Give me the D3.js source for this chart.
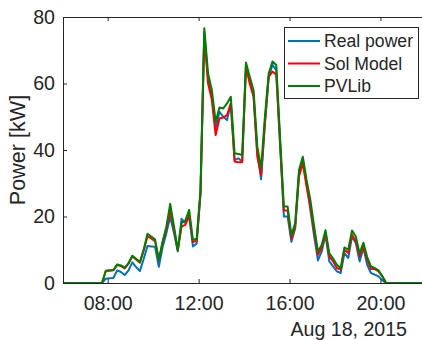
<!DOCTYPE html>
<html>
<head>
<meta charset="utf-8">
<script src="https://cdn.jsdelivr.net/npm/d3@7"></script>
<style>
  body { margin: 0; background: #fff; }
  text { font-family: 'Liberation Sans', Arial, sans-serif; fill: #262626; }
</style>
</head>
<body>
<svg id="chart" width="422" height="340"></svg>
<script>
// samples every 10 minutes, 06:05 .. 21:55 on Aug 18, 2015
const startTime = new Date(2015, 7, 18, 6, 5)
const stepMinutes = 10
const xLimits = [new Date(2015, 7, 18, 6, 2), new Date(2015, 7, 18, 21, 55)]

const realPower = [
	0, 0, 0, 0, 0, 0, 0, 0, 0, 0, 0,
	1.3, 1.4, 1.5, 3.8, 3.3, 2.4, 3.8, 6.2, 4.8, 3.6,
	7.2, 11.1, 11.0, 10.9, 4.9, 10.8, 15.0, 19.9, 15.0, 9.5,
	19.3, 18.0, 20.0, 11.0, 11.9, 27.0, 75.5, 61.0, 56.0, 46.5,
	51.5, 50.0, 49.0, 54.0, 37.0, 37.5, 36.5, 65.0, 61.0, 57.0,
	39.0, 31.2, 48.0, 62.0, 65.6, 64.0, 42.0, 20.0, 20.0, 12.4,
	16.5, 33.0, 37.0, 30.0, 22.0, 14.0, 6.8, 9.5, 14.5, 6.5,
	5.0, 3.5, 3.0, 9.0, 7.5, 14.0, 12.0, 6.5, 10.5, 5.5,
	3.0, 2.5, 2.0, 0.8, 0,
	0, 0, 0, 0, 0, 0, 0, 0, 0, 0
]

const solModel = [
	0, 0, 0, 0, 0, 0, 0, 0, 0, 0, 0,
	3.6, 3.7, 3.8, 5.4, 5.1, 4.4, 5.8, 8.0, 7.1, 6.1,
	9.8, 14.0, 13.4, 12.6, 6.8, 12.2, 16.2, 22.0, 16.0, 9.8,
	17.0, 17.5, 20.5, 12.3, 12.7, 27.0, 74.5, 60.0, 55.0, 44.5,
	49.5, 49.8, 50.5, 54.0, 36.5, 36.3, 36.3, 65.0, 60.0, 56.0,
	38.0, 32.5, 48.0, 62.0, 63.6, 62.6, 42.0, 21.8, 21.8, 13.4,
	17.0, 32.0, 36.0, 29.0, 23.0, 15.5, 8.5, 10.5, 15.0, 8.0,
	6.5, 4.5, 4.0, 10.0, 9.0, 14.5, 12.5, 8.0, 11.0, 7.0,
	4.2, 4.2, 3.5, 2.0, 0,
	0, 0, 0, 0, 0, 0, 0, 0, 0, 0
]

const pvLib = [
	0, 0, 0, 0, 0, 0, 0, 0, 0, 0, 0,
	3.7, 3.8, 3.9, 5.6, 5.3, 4.6, 6.0, 8.2, 7.3, 6.3,
	10.0, 14.8, 14.0, 13.1, 7.0, 12.5, 17.0, 23.8, 17.0, 10.0,
	18.0, 18.8, 22.0, 12.9, 13.4, 28.0, 76.6, 63.0, 58.0, 48.5,
	52.8, 52.5, 54.0, 56.0, 39.0, 38.8, 38.5, 66.3, 62.0, 58.0,
	41.0, 34.5, 50.0, 63.0, 66.6, 65.6, 44.0, 23.0, 23.0, 14.4,
	18.0, 34.0, 38.0, 31.0, 25.0, 17.0, 9.5, 11.4, 15.9, 8.9,
	7.4, 5.5, 4.5, 10.7, 10.0, 15.8, 14.0, 8.9, 12.1, 7.8,
	5.0, 4.5, 3.8, 2.0, 0,
	0, 0, 0, 0, 0, 0, 0, 0, 0, 0
]

const seriesNames = ['Real power', 'Sol Model', 'PVLib']
const seriesColors = ['#0072BD', '#FF0000', '#008000']
const yTicks = [0, 20, 40, 60, 80]
const dateLabel = 'Aug 18, 2015'
const yLabel = 'Power [kW]'

let times = realPower.map((d, i) => d3.timeMinute.offset(startTime, i * stepMinutes))
let series = [realPower, solModel, pvLib]

let margin = {left: 63, top: 17, right: 424, bottom: 283}
let axisFont = '19.6px'
let legendFont = '17.6px'   // matlab legend is 0.9x the axes font

let svg = d3.select('#chart')

let x = d3.scaleTime()
	.domain(xLimits)
	.range([margin.left, margin.right])

let y = d3.scaleLinear()
	.domain([0, 80])
	.range([margin.bottom, margin.top])

svg.append('clipPath').attr('id', 'plot-clip')
	.append('rect')
	.attr('x', margin.left).attr('y', margin.top - 5)
	.attr('width', margin.right - margin.left)
	.attr('height', margin.bottom - margin.top + 5)

let line = d3.line()
	.x((d, i) => x(times[i]))
	.y(d => y(d))

series.forEach((values, k) => {
	svg.append('path')
		.datum(values)
		.attr('clip-path', 'url(#plot-clip)')
		.attr('d', line)
		.style('fill', 'none')
		.style('stroke', seriesColors[k])
		.style('stroke-width', 2)
		.style('stroke-linejoin', 'round')
})

// axes, MATLAB style: box on, ticks pointing in
let xAxis = d3.axisBottom(x)
	.ticks(d3.timeHour.every(4))
	.tickFormat(d3.timeFormat('%H:%M'))
	.tickSizeInner(-4)
	.tickSizeOuter(0)
	.tickPadding(13)

let gx = svg.append('g')
	.attr('transform', `translate(0,${margin.bottom})`)
	.call(xAxis)

let gTop = svg.append('g')
	.attr('transform', `translate(0,${margin.top})`)
	.call(d3.axisTop(x).ticks(d3.timeHour.every(4)).tickSizeInner(-4).tickSizeOuter(0).tickFormat(''))

let gy = svg.append('g')
	.attr('transform', `translate(${margin.left},0)`)
	.call(d3.axisLeft(y).tickValues(yTicks).tickSizeInner(-4).tickSizeOuter(0).tickPadding(8))

;[gx, gTop, gy].forEach(g => {
	g.selectAll('path, line').style('stroke', '#262626')
	g.selectAll('text')
		.style('font-size', axisFont)
		.style('font-family', "'Liberation Sans', Arial, sans-serif")
		.style('fill', '#262626')
})

svg.append('text')
	.attr('x', 407)
	.attr('y', 336)
	.attr('text-anchor', 'end')
	.style('font-size', axisFont)
	.text(dateLabel)

svg.append('text')
	.attr('transform', `translate(25,${(margin.top + margin.bottom) / 2}) rotate(-90)`)
	.attr('text-anchor', 'middle')
	.style('font-size', '21.6px')
	.text(yLabel)

// legend
let legend = svg.append('g').attr('transform', 'translate(284,27)')
legend.append('rect')
	.attr('x', 0.5).attr('y', 0.5)
	.attr('width', 134).attr('height', 71)
	.style('fill', '#fff')
	.style('stroke', '#262626')

seriesNames.forEach((name, k) => {
	let ly = 14 + k * 22.5
	legend.append('line')
		.attr('x1', 4).attr('x2', 36)
		.attr('y1', ly).attr('y2', ly)
		.style('stroke', seriesColors[k])
		.style('stroke-width', 2)
	legend.append('text')
		.attr('x', 40)
		.attr('y', ly)
		.attr('dy', '0.35em')
		.style('font-size', legendFont)
		.text(name)
})
</script>
</body>
</html>
